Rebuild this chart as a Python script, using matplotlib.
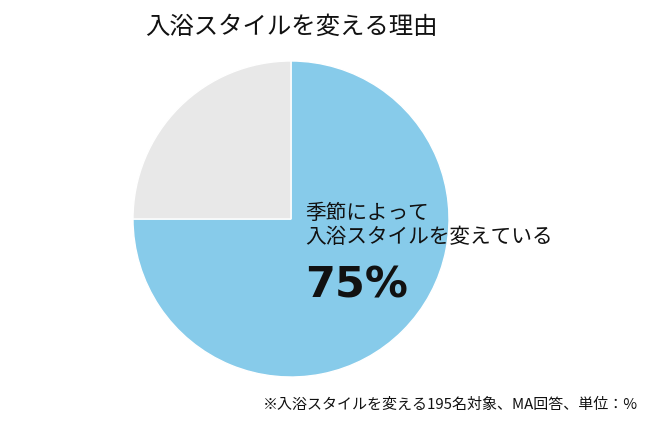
import matplotlib
matplotlib.use('Agg')
import matplotlib.pyplot as plt

plt.rcParams['font.family'] = ['Noto Sans CJK JP', 'DejaVu Sans']

# Data
labels = ['季節によって\n入浴スタイルを変えている', 'その他']
shares = [75, 25]
colors = ['#87CBEA', '#E8E8E8']

title = '入浴スタイルを変える理由'
note = '※入浴スタイルを変える195名対象、MA回答、単位：%'

fig = plt.figure(figsize=(6.5, 4.24), dpi=100)

# pie axes placed to match the reference circle
cx, cy, r = 291, 219, 158
ax = fig.add_axes([(cx - r) / 650, 1 - (cy + r) / 424, 2 * r / 650, 2 * r / 424])
ax.pie(shares, colors=colors, startangle=90, counterclock=False,
       wedgeprops=dict(edgecolor='white', linewidth=1), radius=1)
ax.set_xlim(-1, 1)
ax.set_ylim(-1, 1)
ax.set_aspect('equal')
ax.axis('off')

fig.text(145 / 650, 1 - 27 / 424, title, fontsize=17.6, va='center', ha='left', color='#111111')
fig.text(305 / 650, 1 - 225 / 424, labels[0], fontsize=14.9, va='center', ha='left',
         color='#111111', linespacing=1.15)
fig.text(305 / 650, 1 - 285 / 424, f'{shares[0]}%', fontsize=31, fontweight='bold',
         family='DejaVu Sans', va='center', ha='left', color='#111111')
fig.text(638 / 650, 1 - 405 / 424, note, fontsize=10.8, va='center', ha='right', color='#111111')

fig.savefig('out.png', dpi=100)
